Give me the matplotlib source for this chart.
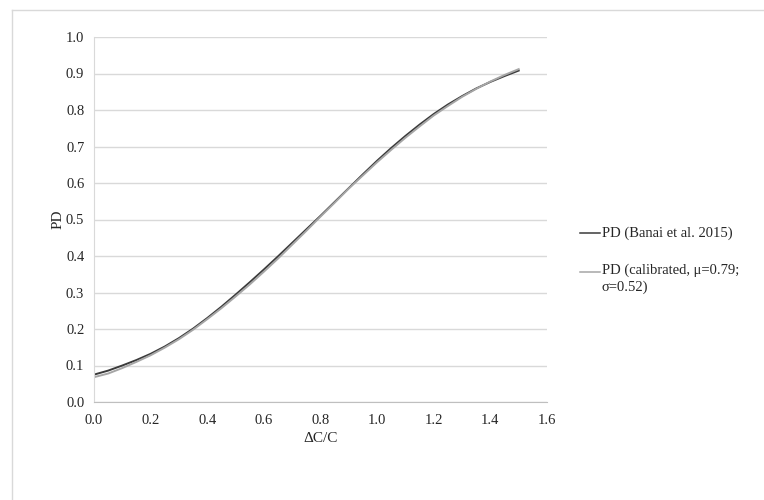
import matplotlib
matplotlib.use("Agg")
import matplotlib.pyplot as plt
from matplotlib.lines import Line2D

plt.rcParams['font.family'] = ['Liberation Serif', 'DejaVu Serif']

x_vals = [0.00, 0.05, 0.10, 0.15, 0.20, 0.25, 0.30, 0.35, 0.40, 0.45, 0.50,
          0.55, 0.60, 0.65, 0.70, 0.75, 0.80, 0.85, 0.90, 0.95, 1.00,
          1.05, 1.10, 1.15, 1.20, 1.25, 1.30, 1.35, 1.40, 1.45, 1.50]
pd_banai = [0.075, 0.086, 0.100, 0.115, 0.132, 0.152, 0.175, 0.201, 0.230, 0.261, 0.294,
            0.328, 0.363, 0.399, 0.436, 0.473, 0.510, 0.548, 0.586, 0.624, 0.661,
            0.696, 0.729, 0.760, 0.789, 0.815, 0.838, 0.859, 0.877, 0.893, 0.908]
pd_calibrated = [0.068, 0.078, 0.093, 0.110, 0.128, 0.149, 0.172, 0.198, 0.227, 0.257, 0.289,
                 0.322, 0.357, 0.393, 0.431, 0.469, 0.508, 0.546, 0.585, 0.621, 0.657,
                 0.691, 0.724, 0.755, 0.785, 0.811, 0.836, 0.858, 0.878, 0.896, 0.912]
labels = ["PD (Banai et al. 2015)", "PD (calibrated, \u03bc=0.79;\n\u03c3=0.52)"]
x_ticks = [0.0, 0.2, 0.4, 0.6, 0.8, 1.0, 1.2, 1.4, 1.6]
y_ticks = [0.0, 0.1, 0.2, 0.3, 0.4, 0.5, 0.6, 0.7, 0.8, 0.9, 1.0]

W, H = 764, 500
fig = plt.figure(figsize=(W/100, H/100), dpi=100)
ax = fig.add_axes([94/W, 1-402/H, (547-94)/W, (402-37)/H])

# outer frame (partially visible)
fig.add_artist(Line2D([12/W, 1.0], [1-10/H, 1-10/H], transform=fig.transFigure,
                      color='#d9d9d9', lw=1))
fig.add_artist(Line2D([12/W, 12/W], [1-10/H, 0.0], transform=fig.transFigure,
                      color='#d9d9d9', lw=1))

l1, = ax.plot(x_vals, pd_banai, color='#3a3a3a', lw=1.4, label=labels[0])
l2, = ax.plot(x_vals, pd_calibrated, color='#a6a6a6', lw=1.4, label=labels[1])

ax.set_xlim(0, 1.6)
ax.set_ylim(0, 1.0)
ax.set_xticks(x_ticks)
ax.set_yticks(y_ticks)
ax.set_xticklabels([f"{v:.1f}" for v in x_ticks])
ax.set_yticklabels([f"{v:.1f}" for v in y_ticks])
ax.tick_params(axis='x', length=0, labelsize=10.5, colors='#262626', pad=9)
ax.tick_params(axis='y', length=0, labelsize=10.5, colors='#262626', pad=7)
ax.yaxis.grid(True, color='#d9d9d9', lw=1)
ax.set_axisbelow(True)
for s in ['top', 'right']:
    ax.spines[s].set_visible(False)
ax.spines['left'].set_color('#d9d9d9')
ax.spines['bottom'].set_color('#bfbfbf')

ax.set_xlabel("\u0394C/C", fontsize=11, color='#262626', labelpad=3)
ax.set_ylabel("PD", fontsize=11, color='#262626', labelpad=1)

# legend drawn manually (figure pixel positions)
leg_items = [(l1, labels[0], 233), (l2, labels[1], 272)]
for line, lab, ypix in leg_items:
    yf = 1 - ypix/H
    fig.add_artist(Line2D([580/W, 600/W], [yf, yf], transform=fig.transFigure,
                          color=line.get_color(), lw=1.1))
    multi = '\n' in lab
    fig.text(602/W, (1 - (ypix - 8)/H) if multi else yf, lab,
             transform=fig.transFigure, fontsize=10.5, color='#262626',
             ha='left', va='top' if multi else 'center', linespacing=1.25)

fig.savefig("out.png", dpi=100)
